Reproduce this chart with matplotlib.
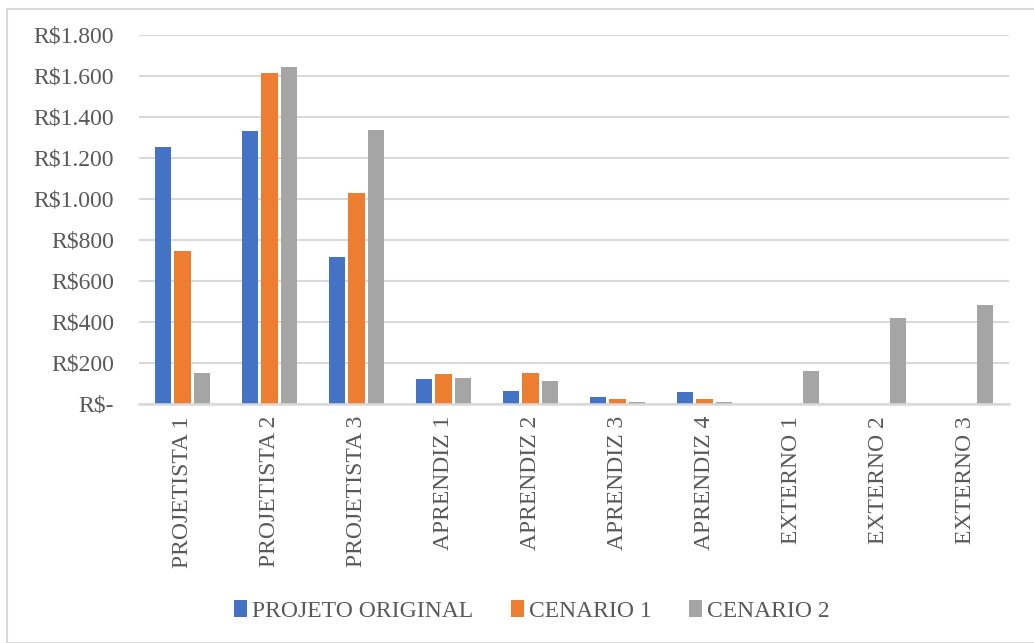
import matplotlib.pyplot as plt
import numpy as np
from matplotlib.patches import Rectangle

categorias = ['PROJETISTA 1', 'PROJETISTA 2', 'PROJETISTA 3', 'APRENDIZ 1', 'APRENDIZ 2',
              'APRENDIZ 3', 'APRENDIZ 4', 'EXTERNO 1', 'EXTERNO 2', 'EXTERNO 3']
projeto_original = [1254, 1332, 717, 122, 60, 30, 54, 0, 0, 0]
cenario_1 = [746, 1615, 1029, 146, 148, 20, 24, 0, 0, 0]
cenario_2 = [151, 1644, 1337, 127, 108, 5, 5, 158, 417, 480]
series = ['PROJETO ORIGINAL', 'CENARIO 1', 'CENARIO 2']
cores = ['#4472C4', '#ED7D31', '#A5A5A5']
yticks = [0, 200, 400, 600, 800, 1000, 1200, 1400, 1600, 1800]
ylabels = ['R$-', 'R$200', 'R$400', 'R$600', 'R$800', 'R$1.000', 'R$1.200',
           'R$1.400', 'R$1.600', 'R$1.800']

plt.rcParams['font.family'] = ['Liberation Serif', 'DejaVu Serif']

fig = plt.figure(figsize=(10.34, 6.43), dpi=100)
W, H = 1034, 643

# moldura do grafico
fig.patches.append(Rectangle((7 / W, 0), 1.1, 1 - 9 / H, transform=fig.transFigure,
                             facecolor='none', edgecolor='#D9D9D9', linewidth=1.5, zorder=-1))

ax = fig.add_axes([139 / W, 1 - 403.5 / H, 870 / W, (403.5 - 35) / H])
ax.set_facecolor('none')

x = np.arange(len(categorias))
larg = 0.185
desl = 0.224
for i, (valores, nome, cor) in enumerate(zip([projeto_original, cenario_1, cenario_2], series, cores)):
    ax.bar(x + (i - 1) * desl, valores, width=larg, color=cor, label=nome, zorder=3)

ax.set_xlim(-0.5, len(categorias) - 0.5)
ax.set_ylim(0, 1800)
ax.set_yticks(yticks)
ax.set_yticklabels(ylabels)
ax.set_xticks(x)
ax.set_xticklabels(categorias, rotation=90, va='top', ha='center')
ax.tick_params(axis='y', length=0, pad=18, labelsize=17, labelcolor='#595959')
ax.tick_params(axis='x', length=0, pad=9, labelsize=17, labelcolor='#595959')
ax.grid(axis='y', color='#D9D9D9', linewidth=1.5, zorder=0)
for lado in ['top', 'right', 'left']:
    ax.spines[lado].set_visible(False)
ax.spines['bottom'].set_color('#D9D9D9')
ax.spines['bottom'].set_linewidth(1.8)
ax.spines['bottom'].set_zorder(4)

fig.legend(loc='center', bbox_to_anchor=(532 / W, 1 - 611 / H), ncol=3, frameon=False,
           fontsize=17, labelcolor='#595959', handlelength=0.55, handleheight=0.7,
           handletextpad=0.2, columnspacing=1.6)

fig.savefig('out.png', dpi=100)
